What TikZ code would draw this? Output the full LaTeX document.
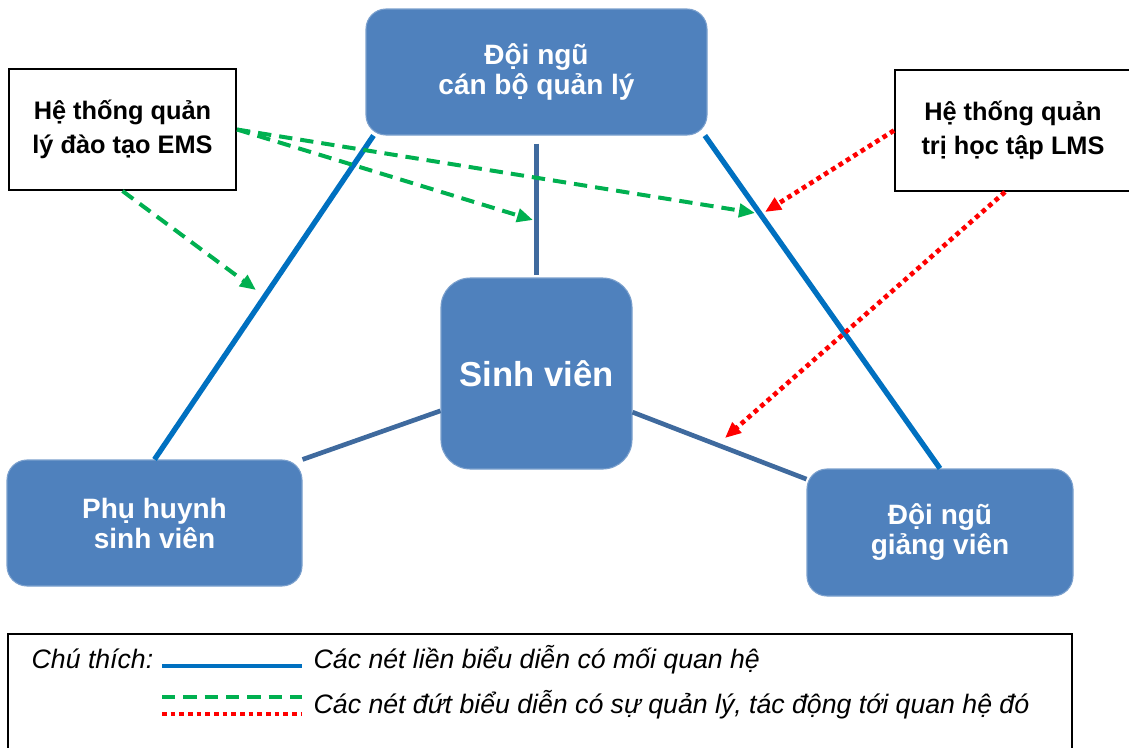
\documentclass[tikz,border=0pt]{standalone}
\usepackage{fontspec}
\setmainfont{Liberation Sans}
\usepackage{xcolor}
\usetikzlibrary{arrows.meta,calc}
\definecolor{boxblue}{HTML}{4F81BD}
\definecolor{lineblue}{HTML}{0070C0}
\definecolor{linegray}{HTML}{3F6A9E}
\definecolor{msgreen}{HTML}{00B050}

\begin{document}
\begin{tikzpicture}[x=0.75pt, y=-0.75pt,
    actor/.style={draw=boxblue!75!white, line width=0.8pt, fill=boxblue, rounded corners=15pt,
        text=white, font=\bfseries\fontsize{21}{22.5}\selectfont, align=center, inner sep=0pt},
    system/.style={draw=black, line width=1.5pt, fill=white,
        font=\bfseries\fontsize{19}{25}\selectfont, align=center, inner sep=0pt},
    relline/.style={lineblue, line width=4pt},
    linkline/.style={linegray, line width=3.5pt},
    emsarrow/.style={msgreen, line width=3pt, dash pattern=on 10pt off 6pt,
        -{Triangle[length=12pt,width=10pt]}},
    lmsarrow/.style={red, line width=3.5pt, dash pattern=on 3.5pt off 3pt,
        -{Triangle[length=12pt,width=10pt]}}]
    \useasboundingbox (0,0) rectangle (1129,747);
    \clip (0,0) rectangle (1129,747);

    % boxes
    \node[actor, minimum width=255.75pt, minimum height=94.5pt] (staff) at (536.5,72) {Đội ngũ\\cán bộ quản lý};
    \node[actor, rounded corners=22pt, minimum width=143.25pt, minimum height=143.25pt,
        font=\bfseries\fontsize{26}{30}\selectfont] (student) at (536.5,373.5) {Sinh viên};
    \node[actor, minimum width=221.25pt, minimum height=94.5pt] (parent) at (154.5,523) {Phụ huynh\\sinh viên};
    \node[actor, minimum width=199.5pt, minimum height=95.25pt] (lecturer) at (940,532.5) {Đội ngũ\\giảng viên};
    \node[system, minimum width=170.25pt, minimum height=90.75pt] (ems) at (122.5,129.5) {Hệ thống quản\\lý đào tạo EMS};
    \node[system, minimum width=177pt, minimum height=90.75pt] (lms) at (1013,130.5) {Hệ thống quản\\trị học tập LMS};

    % relations
    \draw[relline] (parent.north) -- ([xshift=6pt]staff.south west);
    \draw[relline] ([xshift=-2pt]staff.south east) -- (lecturer.north);
    \draw[linkline, shorten <=6pt, shorten >=2pt] (staff.south) -- (student.north);
    \draw[linkline] ([yshift=-28pt]student.west) -- (parent.north east);
    \draw[linkline] ([yshift=-29pt]student.east) -- ([yshift=-8pt]lecturer.north west);

    % management arrows
    \coordinate (e1) at (755,213);
    \coordinate (e2) at (533,220);
    \coordinate (e3) at (256,290);
    \coordinate (l1) at (765,212);
    \coordinate (l2) at (725,438);
    \draw[emsarrow] (ems.east) -- (e1);
    \draw[emsarrow] (ems.east) -- (e2);
    \draw[emsarrow] (ems.south) -- (e3);
    \draw[lmsarrow] (lms.west) -- (l1);
    \draw[lmsarrow] ([xshift=-6pt]lms.south) -- (l2);

    % legend
    \draw[line width=1pt] (8,634) rectangle (1072,760);
    \node[anchor=base west, font=\itshape\fontsize{20}{24}\selectfont] (note) at (27,668) {Chú thích:};
    \coordinate (k1) at (162,666);
    \coordinate (k2) at (302,666);
    \coordinate (k3) at (162,697);
    \coordinate (k4) at (302,697);
    \coordinate (k5) at (162,714);
    \coordinate (k6) at (302,714);
    \draw[lineblue, line width=3pt] (k1) -- (k2);
    \draw[msgreen, line width=3pt, dash pattern=on 10pt off 6pt] (k3) -- (k4);
    \draw[red, line width=3.5pt, dash pattern=on 3.5pt off 3pt] (k5) -- (k6);
    \node[anchor=base west, font=\itshape\fontsize{20}{24}\selectfont] (solid) at (309,668)
        {Các nét liền biểu diễn có mối quan hệ};
    \node[anchor=base west, font=\itshape\fontsize{20}{24}\selectfont] (dashed) at (309,713)
        {Các nét đứt biểu diễn có sự quản lý, tác động tới quan hệ đó};
\end{tikzpicture}
\end{document}
